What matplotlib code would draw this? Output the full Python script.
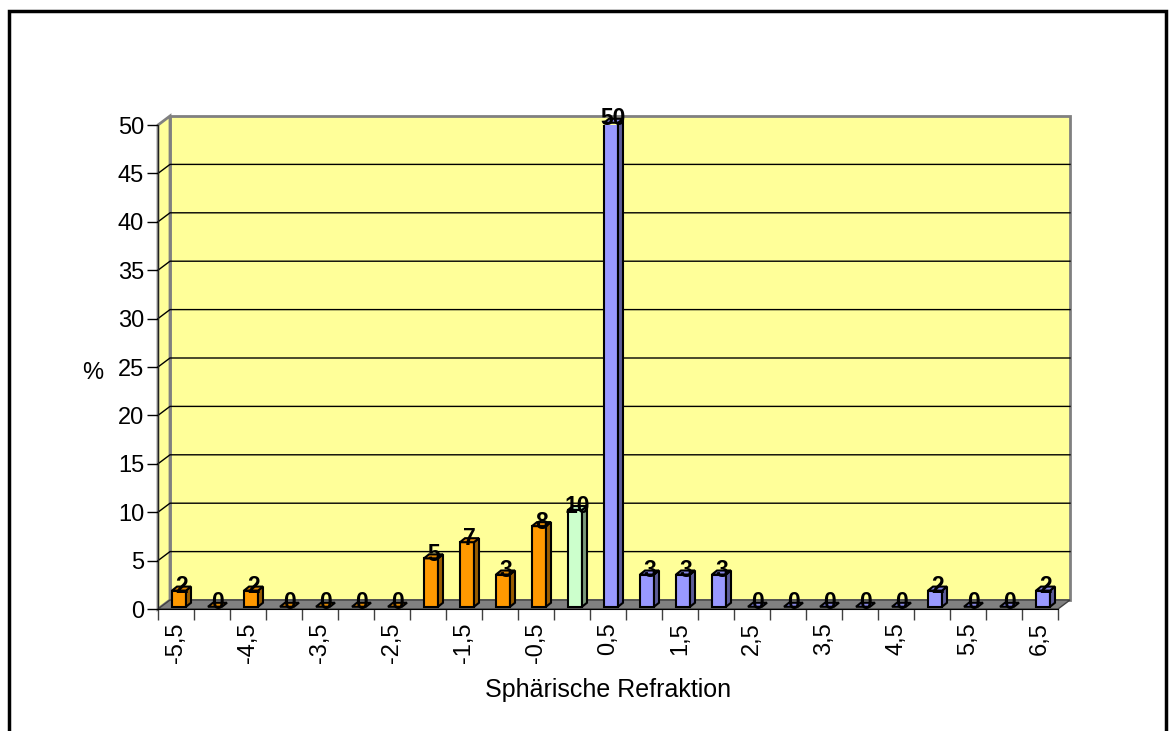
import matplotlib.pyplot as plt
from matplotlib.patches import Polygon, Rectangle

plt.rcParams['font.family'] = ['Liberation Sans', 'DejaVu Sans']

refraction = [-5.5, -5.0, -4.5, -4.0, -3.5, -3.0, -2.5, -2.0, -1.5, -1.0, -0.5, 0.0,
              0.5, 1.0, 1.5, 2.0, 2.5, 3.0, 3.5, 4.0, 4.5, 5.0, 5.5, 6.0, 6.5]
percent = [1.67, 0, 1.67, 0, 0, 0, 0, 5.0, 6.67, 3.33, 8.33, 10.0,
           50.0, 3.33, 3.33, 3.33, 0, 0, 0, 0, 0, 1.67, 0, 0, 1.67]
yticks = [0, 5, 10, 15, 20, 25, 30, 35, 40, 45, 50]

# front, side, top colours for myopic / zero / hyperopic bars
col_neg = ('#FF9900', '#995C00', '#E08600')
col_zero = ('#CCFFCC', '#7A997A', '#B5E6B5')
col_pos = ('#9999FF', '#5C5C99', '#8787E6')

W, H = 1172, 731
fig = plt.figure(figsize=(W / 100, H / 100), dpi=100)
ax = fig.add_axes([158 / W, (H - 609) / H, 900 / W, 484 / H])
n = len(refraction)
ax.set_xlim(-0.5, n - 0.5)
ax.set_ylim(0, 50)
ax.patch.set_visible(False)

# depth of the 3d box in data units
dx, dy = 12 / 36, 9 / 9.68
x0, x1 = -0.5, n - 0.5

floor = Polygon([(x0, 0), (x1, 0), (x1 + dx, dy), (x0 + dx, dy)],
                facecolor='#808080', edgecolor='#404040', lw=1, clip_on=False, zorder=1)
back = Polygon([(x0 + dx, dy), (x1 + dx, dy), (x1 + dx, 50 + dy), (x0 + dx, 50 + dy)],
               facecolor='#FFFF99', edgecolor='#808080', lw=2, clip_on=False, zorder=0)
side = Polygon([(x0, 0), (x0 + dx, dy), (x0 + dx, 50 + dy), (x0, 50)],
               facecolor='#FFFF99', edgecolor='#808080', lw=2, clip_on=False, zorder=0)
for p in (back, side, floor):
    ax.add_patch(p)
for v in yticks[1:-1]:
    ax.plot([x0, x0 + dx, x1 + dx], [v, v + dy, v + dy], color='black', lw=1,
            clip_on=False, zorder=0.5)

# bars: front face from ax.bar, side and top as polygons
f = 0.25
bw = 14 / 36
bdx, bdy = 5 / 36, 4 / 9.68
base = f * dy
for i, (r, v) in enumerate(zip(refraction, percent)):
    cols = col_neg if r < 0 else (col_zero if r == 0 else col_pos)
    xc = i + f * dx
    xl, xr = xc - bw / 2, xc + bw / 2
    top = base + v
    if v > 0:
        ax.bar(xc, v, width=bw, bottom=base, color=cols[0], edgecolor='black',
               lw=1.5, zorder=3)
        ax.add_patch(Polygon([(xr, base), (xr + bdx, base + bdy), (xr + bdx, top + bdy), (xr, top)],
                             facecolor=cols[1], edgecolor='black', lw=1.5, zorder=3, clip_on=False))
    ax.add_patch(Polygon([(xl, top), (xr, top), (xr + bdx, top + bdy), (xl + bdx, top + bdy)],
                         facecolor=cols[2], edgecolor='black', lw=1.5, zorder=3, clip_on=False))
    ax.text(xc + bdx / 2, top + bdy / 2 + 0.2, f'{v:.0f}', ha='center', va='center',
            fontsize=16.5, fontweight='bold', zorder=4, clip_on=False)

# axes, ticks and labels
for s in ('top', 'right'):
    ax.spines[s].set_visible(False)
ax.spines['left'].set_color('#202020')
ax.spines['bottom'].set_color('black')
ax.spines['left'].set_zorder(2)
ax.spines['bottom'].set_zorder(2)
ax.set_yticks(yticks)
ax.tick_params(axis='y', length=8, width=1, pad=2, labelsize=17)
ax.set_xticks([i - 0.5 for i in range(n + 1)])
ax.set_xticklabels([])
ax.tick_params(axis='x', which='major', length=8, width=1, color='#404040')
ax.set_xticks(range(0, n, 2), minor=True)
ax.set_xticklabels([f'{refraction[i]:g}'.replace('.', ',') for i in range(0, n, 2)],
                   minor=True, rotation=90, fontsize=17)
ax.tick_params(axis='x', which='minor', length=0, pad=9.5)

ax.set_ylabel('%', rotation=0, fontsize=17, va='center', ha='center')
ax.yaxis.set_label_coords((93 - 158) / 900, (609 - 373) / 484)
ax.set_xlabel('Sphärische Refraktion', fontsize=18)
ax.xaxis.set_label_coords(0.5, (609 - 690) / 484)
ax.xaxis.label.set_va('center')

fig.patches.append(Rectangle((9 / W, -0.1), (1166 - 9) / W, (H - 11) / H + 0.1,
                             transform=fig.transFigure, fill=False, edgecolor='black', lw=2.5))

fig.savefig('out.png', dpi=100)
